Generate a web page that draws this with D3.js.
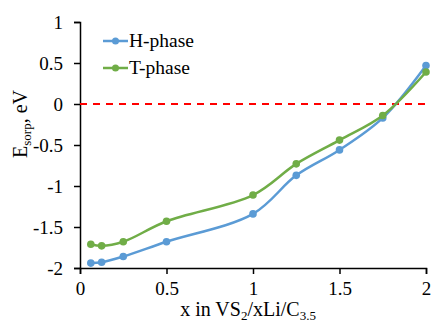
<!DOCTYPE html>
<html>
<head>
<meta charset="utf-8">
<script src="https://cdn.jsdelivr.net/npm/d3@7"></script>
<style>
body { margin: 0; background: #fff; }
</style>
</head>
<body>
<div id="chart"></div>
<script>
var xValues = [0.0625, 0.125, 0.25, 0.5, 1, 1.25, 1.5, 1.75, 2];
var hPhase = [-1.94, -1.93, -1.86, -1.68, -1.34, -0.87, -0.56, -0.17, 0.47];
var tPhase = [-1.71, -1.73, -1.68, -1.43, -1.11, -0.73, -0.44, -0.14, 0.39];
var seriesNames = ["H-phase", "T-phase"];
var seriesColors = ["#5B9BD5", "#70AD47"];
var xTicks = [0, 0.5, 1, 1.5, 2];
var yTicks = [1, 0.5, 0, -0.5, -1, -1.5, -2];

var width = 431, height = 322;
var plotLeft = 80, plotRight = 426, plotTop = 22, plotBottom = 268;
var serif = "Liberation Serif";

var svg = d3.select("#chart").append("svg")
	.attr("width", width)
	.attr("height", height)
	.attr("font-family", serif);

var x = d3.scaleLinear().domain([0, 2]).range([plotLeft, plotRight]);
var y = d3.scaleLinear().domain([-2, 1]).range([plotBottom, plotTop]);

// axes
var xAxis = svg.append("g")
	.attr("transform", "translate(0," + plotBottom + ")")
	.call(d3.axisBottom(x).tickValues(xTicks).tickSize(6).tickPadding(6)
		.tickFormat(function(d) { return String(d); }));
var yAxis = svg.append("g")
	.attr("transform", "translate(" + plotLeft + ",0)")
	.call(d3.axisLeft(y).tickValues(yTicks).tickSize(6).tickPadding(11)
		.tickFormat(function(d) { return String(d); }));

[xAxis, yAxis].forEach(function(a) {
	a.attr("font-family", serif).attr("font-size", 19);
	a.select(".domain").attr("stroke", "#000").attr("stroke-width", 1.5);
	a.selectAll(".tick line").attr("stroke", "#000").attr("stroke-width", 1.5);
	a.selectAll(".tick text").attr("fill", "#000");
});
xAxis.selectAll(".tick text").attr("dy", "0.8em");
yAxis.selectAll(".tick text").attr("dy", "0.34em");

// zero line
svg.append("line")
	.attr("x1", x(0)).attr("x2", x(2))
	.attr("y1", y(0)).attr("y2", y(0))
	.attr("stroke", "#FF0000")
	.attr("stroke-width", 2)
	.attr("stroke-dasharray", "7,6");

var line = d3.line()
	.x(function(d) { return x(d[0]); })
	.y(function(d) { return y(d[1]); })
	.curve(d3.curveCatmullRom.alpha(0.5));

[hPhase, tPhase].forEach(function(vals, i) {
	var pts = xValues.map(function(v, j) { return [v, vals[j]]; });
	svg.append("path")
		.datum(pts)
		.attr("d", line)
		.attr("fill", "none")
		.attr("stroke", seriesColors[i])
		.attr("stroke-width", 2.5);
	svg.selectAll(".pt" + i).data(pts).enter().append("circle")
		.attr("cx", function(d) { return x(d[0]); })
		.attr("cy", function(d) { return y(d[1]); })
		.attr("r", 3.8)
		.attr("fill", seriesColors[i]);
});

// legend
seriesNames.forEach(function(name, i) {
	var ly = 41 + i * 27;
	svg.append("line")
		.attr("x1", 103).attr("x2", 128)
		.attr("y1", ly).attr("y2", ly)
		.attr("stroke", seriesColors[i]).attr("stroke-width", 2.5);
	svg.append("circle")
		.attr("cx", 115.5).attr("cy", ly).attr("r", 3.5)
		.attr("fill", seriesColors[i]);
	svg.append("text")
		.attr("x", 129).attr("y", ly + 6)
		.attr("font-size", 19.5)
		.text(name);
});

// x title
var xt = svg.append("text")
	.attr("x", 248).attr("y", 316)
	.attr("text-anchor", "middle")
	.attr("font-size", 20);
xt.append("tspan").text("x in VS");
xt.append("tspan").attr("font-size", 13).attr("dy", 4).text("2");
xt.append("tspan").attr("dy", -4).text("/xLi/C");
xt.append("tspan").attr("font-size", 13).attr("dy", 4).text("3.5");

// y title
var yt = svg.append("text")
	.attr("transform", "translate(27,124) rotate(-90)")
	.attr("text-anchor", "middle")
	.attr("font-size", 20);
yt.append("tspan").text("E");
yt.append("tspan").attr("font-size", 13).attr("dy", 4).text("sorp");
yt.append("tspan").attr("dy", -4).text(", eV");
</script>
</body>
</html>
